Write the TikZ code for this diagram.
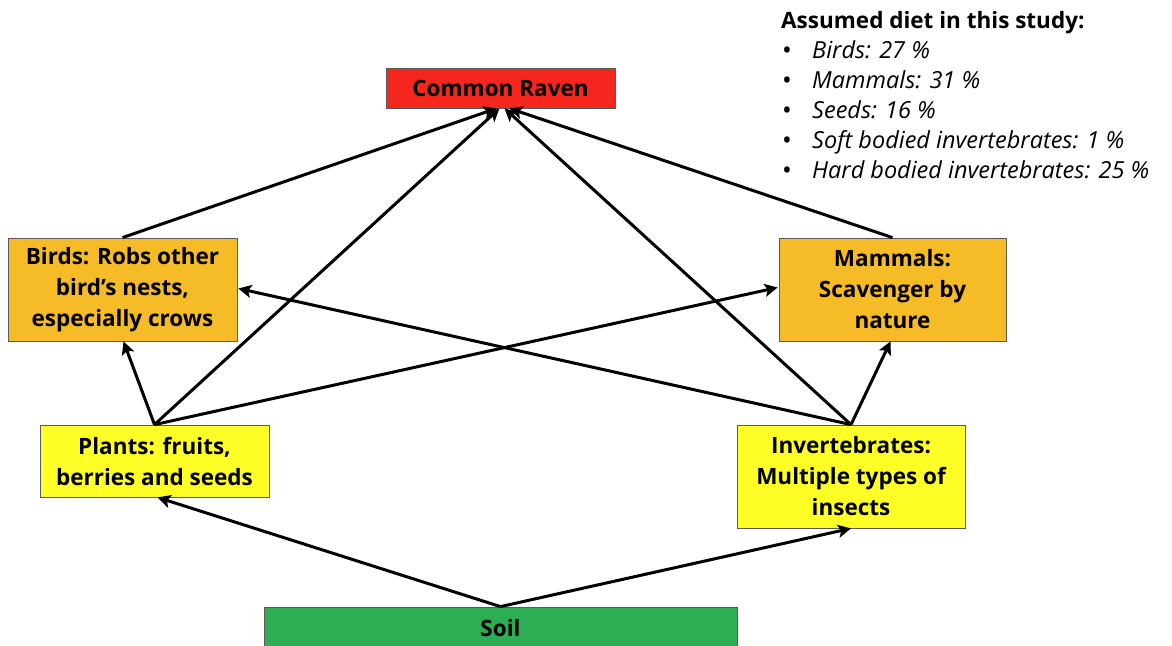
\documentclass[tikz,border=0pt]{standalone}
\usepackage{fontspec}
\setmainfont{Open Sans}
\usetikzlibrary{arrows.meta}
\definecolor{ravenred}{RGB}{244,38,30}
\definecolor{preyorange}{RGB}{246,188,39}
\definecolor{baseyellow}{RGB}{255,255,40}
\definecolor{soilgreen}{RGB}{46,174,82}
\definecolor{edgegray}{RGB}{90,90,90}
\tikzset{
  box/.style={draw=edgegray, line width=0.8pt, inner sep=0pt, align=center,
    font=\fontsize{22.5}{31}\selectfont\bfseries},
  feeds/.style={line width=3pt, -{Stealth[length=13pt,width=13pt,inset=3pt]}},
  dietline/.style={anchor=base west, inner sep=0pt, font=\fontsize{23.5}{30}\selectfont\itshape},
  bullet/.style={anchor=base west, inner sep=0pt, font=\fontsize{26}{30}\selectfont},
}
\begin{document}
\begin{tikzpicture}[x=1pt,y=-1pt]
\useasboundingbox (0,0) rectangle (1172,645);
\clip (0,0) rectangle (1172,645);

% trophic levels
\node[box, fill=ravenred, minimum width=229pt, minimum height=40pt] (raven) at (500.5,88) {Common Raven};
\node[box, fill=preyorange, minimum width=229pt, minimum height=103pt] (birds) at (122.5,289.5) {Birds: Robs other\\bird’s nests,\\especially crows};
\node[box, fill=preyorange, minimum width=227pt, minimum height=103pt] (mammals) at (892.5,289.5) {Mammals:\\Scavenger by\\nature};
\node[box, fill=baseyellow, minimum width=229pt, minimum height=72pt] (plants) at (154.5,461) {Plants: fruits,\\berries and seeds};
\node[box, fill=baseyellow, minimum width=228pt, minimum height=103pt] (inverts) at (851,476.5) {Invertebrates:\\Multiple types of\\insects};
\node[box, fill=soilgreen, minimum width=473pt, minimum height=42pt] (soil) at (500.5,628) {Soil};

% feeding links
\draw[feeds] (birds.north) -- ([xshift=-4pt]raven.south);
\draw[feeds] (plants.north) -- ([xshift=-1pt]raven.south);
\draw[feeds] (inverts.north) -- ([xshift=4pt]raven.south);
\draw[feeds] (mammals.north) -- ([xshift=9pt]raven.south);
\draw[feeds] (plants.north) -- ([xshift=1pt]birds.south);
\draw[feeds] (plants.north) -- ([xshift=-1pt,yshift=2pt]mammals.west);
\draw[feeds] (inverts.north) -- ([xshift=1pt,yshift=1pt]birds.east);
\draw[feeds] (inverts.north) -- ([xshift=-2pt]mammals.south);
\draw[feeds] (soil.north) -- ([xshift=3pt]plants.south);
\draw[feeds] (soil.north) -- (inverts.south);

% diet summary
\node[anchor=base west, inner sep=0pt, font=\fontsize{22.5}{30}\selectfont\bfseries] (diettitle) at (781,28) {Assumed diet in this study:};
\node[bullet] (b1) at (782,59) {•};
\node[dietline] (d1) at (812,58) {Birds: 27 \%};
\node[bullet] (b2) at (782,89) {•};
\node[dietline] (d2) at (812,88) {Mammals: 31 \%};
\node[bullet] (b3) at (782,119) {•};
\node[dietline] (d3) at (812,118) {Seeds: 16 \%};
\node[bullet] (b4) at (782,149) {•};
\node[dietline] (d4) at (812,148) {Soft bodied invertebrates: 1 \%};
\node[bullet] (b5) at (782,179) {•};
\node[dietline] (d5) at (812,178) {Hard bodied invertebrates: 25 \%};
\end{tikzpicture}
\end{document}
